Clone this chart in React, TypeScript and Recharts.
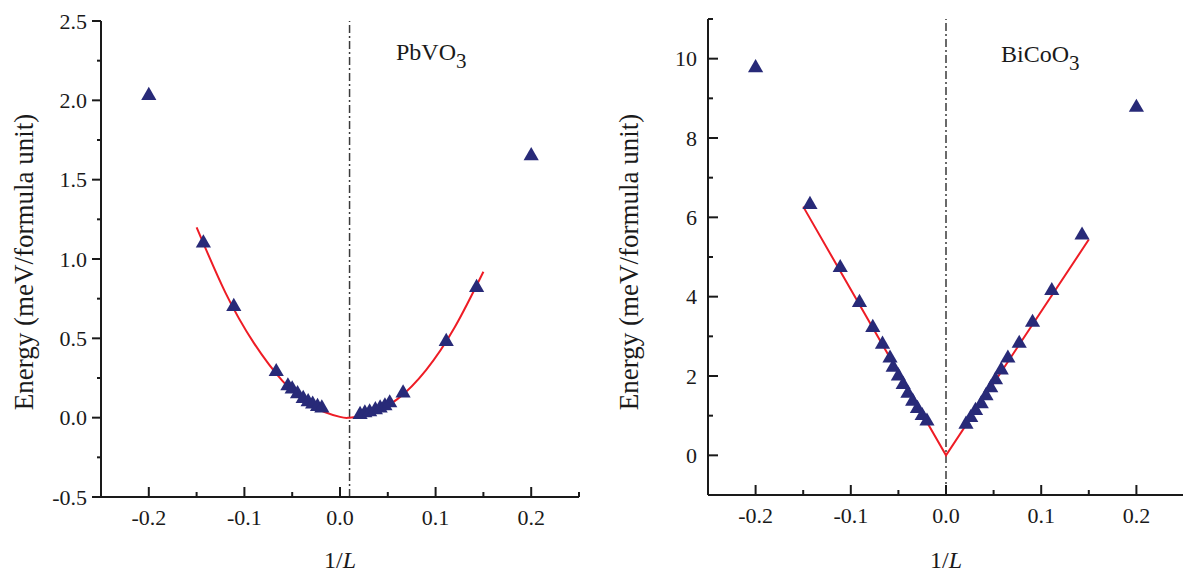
import React from 'react';
import { ComposedChart, XAxis, YAxis, ZAxis, Line, Scatter, ReferenceLine } from 'recharts';

const FONT = '"Liberation Serif", "Times New Roman", Times, serif';
const INK = '#1a1a1a';
const NAVY = '#282a78';
const RED = '#ee1c25';

// ---- PbVO3 (left panel) ----
const pbvo3InvL = [-0.2, -0.1429, -0.1111, -0.0667, -0.0545, -0.05, -0.0444, -0.0385, -0.0333, -0.0286, -0.0235, -0.019,
  0.021, 0.026, 0.031, 0.037, 0.042, 0.047, 0.052, 0.066, 0.1111, 0.1429, 0.2];
const pbvo3Energy = [2.03, 1.10, 0.70, 0.29, 0.20, 0.18, 0.15, 0.12, 0.10, 0.085, 0.07, 0.06,
  0.02, 0.03, 0.036, 0.049, 0.061, 0.074, 0.093, 0.155, 0.48, 0.82, 1.65];
const pbvo3FitInvL = [-0.15, -0.12, -0.09, -0.06, -0.03, 0, 0.01, 0.03, 0.06, 0.09, 0.12, 0.15];
const pbvo3FitEnergy = [1.20, 0.79, 0.47, 0.23, 0.075, 0.005, 0, 0.019, 0.117, 0.30, 0.57, 0.92];
const pbvo3YTicks = [-0.5, -0.25, 0, 0.25, 0.5, 0.75, 1, 1.25, 1.5, 1.75, 2, 2.25, 2.5];
const pbvo3Divider = 0.01;

// ---- BiCoO3 (right panel) ----
const bicoo3InvL = [-0.2, -0.1429, -0.1111, -0.0909, -0.0769, -0.0667, -0.0588, -0.0555, -0.05, -0.045, -0.04, -0.035, -0.03, -0.025, -0.02,
  0.021, 0.026, 0.031, 0.037, 0.042, 0.047, 0.052, 0.058, 0.065, 0.0769, 0.0909, 0.1111, 0.1429, 0.2];
const bicoo3Energy = [9.77, 6.32, 4.73, 3.85, 3.22, 2.80, 2.45, 2.22, 2.0, 1.78, 1.56, 1.36, 1.18, 1.0, 0.86,
  0.78, 0.95, 1.13, 1.3, 1.5, 1.7, 1.9, 2.15, 2.45, 2.82, 3.35, 4.15, 5.55, 8.77];
const bicoo3FitInvL = [-0.15, 0, 0.15];
const bicoo3FitEnergy = [6.27, 0, 5.44];
const bicoo3YTicks = [-1, 0, 1, 2, 3, 4, 5, 6, 7, 8, 9, 10, 11];
const bicoo3Divider = 0;

const xTicks = [-0.25, -0.2, -0.15, -0.1, -0.05, 0, 0.05, 0.1, 0.15, 0.2, 0.25];

const zip = (xs: number[], ys: number[]) => xs.map((x, i) => ({ x, y: ys[i] }));

const XTick = (props: any) => {
  const { x, y, payload } = props;
  const v = payload.value as number;
  const major = Math.abs(Math.round(v * 20)) % 2 === 0;
  return (
    <g>
      <line x1={x} y1={y} x2={x} y2={y - (major ? 10 : 5)} stroke={INK} strokeWidth={2} />
      {major && (
        <text x={x} y={y + 28} textAnchor="middle" fontFamily={FONT} fontSize={22} fill={INK}>
          {v.toFixed(1)}
        </text>
      )}
    </g>
  );
};

const LeftYTick = (props: any) => {
  const { x, y, payload } = props;
  const v = payload.value as number;
  const major = Math.abs(Math.round(v * 4)) % 2 === 0;
  return (
    <g>
      <line x1={x - (major ? 9 : 4)} y1={y} x2={x} y2={y} stroke={INK} strokeWidth={2} />
      {major && (
        <text x={x - 14} y={y + 7.5} textAnchor="end" fontFamily={FONT} fontSize={22} fill={INK}>
          {v.toFixed(1)}
        </text>
      )}
    </g>
  );
};

const RightYTick = (props: any) => {
  const { x, y, payload } = props;
  const v = payload.value as number;
  const major = Math.abs(Math.round(v)) % 2 === 0;
  return (
    <g>
      <line x1={x} y1={y} x2={x + (major ? 10 : 5)} y2={y} stroke={INK} strokeWidth={2} />
      {major && (
        <text x={x - 11} y={y + 7.5} textAnchor="end" fontFamily={FONT} fontSize={22} fill={INK}>
          {String(v)}
        </text>
      )}
    </g>
  );
};

type PanelProps = {
  width: number;
  margin: { top: number; right: number; bottom: number; left: number };
  points: { x: number; y: number }[];
  fit: { x: number; y: number }[];
  fitType: 'natural' | 'linear';
  yDomain: [number, number];
  yTicks: number[];
  yTick: any;
  divider: number;
};

const AXIS_W = 60;
const AXIS_H = 40;

const Panel = ({ width, margin, points, fit, fitType, yDomain, yTicks, yTick, divider }: PanelProps) => (
  <ComposedChart
    width={width}
    height={573}
    margin={{
      top: margin.top,
      right: margin.right,
      bottom: margin.bottom - AXIS_H,
      left: margin.left - AXIS_W,
    }}
  >
    <XAxis
      type="number"
      dataKey="x"
      domain={[-0.25, 0.25]}
      ticks={xTicks}
      interval={0}
      height={AXIS_H}
      tickSize={0}
      tickMargin={0}
      tickLine={false}
      axisLine={{ stroke: INK, strokeWidth: 2 }}
      tick={<XTick />}
    />
    <YAxis
      type="number"
      dataKey="y"
      domain={yDomain}
      ticks={yTicks}
      interval={0}
      width={AXIS_W}
      tickSize={0}
      tickMargin={0}
      tickLine={false}
      axisLine={{ stroke: INK, strokeWidth: 2 }}
      tick={yTick}
    />
    <ZAxis range={[100, 100]} />
    <ReferenceLine x={divider} stroke="#3a3a3a" strokeWidth={1.5} strokeDasharray="8 3 2 3" />
    <Line
      data={fit}
      dataKey="y"
      type={fitType}
      stroke={RED}
      strokeWidth={2}
      dot={false}
      activeDot={false}
      isAnimationActive={false}
    />
    <Scatter data={points} dataKey="y" shape="triangle" fill={NAVY} isAnimationActive={false} />
  </ComposedChart>
);

export default function App() {
  return (
    <div
      style={{
        position: 'absolute',
        left: 0,
        top: 0,
        width: 1183,
        height: 573,
        overflow: 'hidden',
        background: '#fff',
      }}
    >
      <div style={{ position: 'absolute', left: 0, top: 0 }}>
        <Panel
          width={600}
          margin={{ top: 21, right: 21, bottom: 76, left: 101 }}
          points={zip(pbvo3InvL, pbvo3Energy)}
          fit={zip(pbvo3FitInvL, pbvo3FitEnergy)}
          fitType="natural"
          yDomain={[-0.5, 2.5]}
          yTicks={pbvo3YTicks}
          yTick={<LeftYTick />}
          divider={pbvo3Divider}
        />
      </div>
      <div style={{ position: 'absolute', left: 600, top: 0 }}>
        <Panel
          width={590}
          margin={{ top: 19, right: 6, bottom: 78, left: 108 }}
          points={zip(bicoo3InvL, bicoo3Energy)}
          fit={zip(bicoo3FitInvL, bicoo3FitEnergy)}
          fitType="linear"
          yDomain={[-1, 11]}
          yTicks={bicoo3YTicks}
          yTick={<RightYTick />}
          divider={bicoo3Divider}
        />
      </div>
      <svg
        width={1183}
        height={573}
        style={{ position: 'absolute', left: 0, top: 0, pointerEvents: 'none' }}
        fontFamily={FONT}
        fill={INK}
      >
        <text transform="translate(33,262) rotate(-90)" textAnchor="middle" fontSize={27}>
          Energy (meV/formula unit)
        </text>
        <text transform="translate(638,262) rotate(-90)" textAnchor="middle" fontSize={27}>
          Energy (meV/formula unit)
        </text>
        <text x={340} y={568} textAnchor="middle" fontSize={24}>
          1/<tspan fontStyle="italic">L</tspan>
        </text>
        <text x={946} y={568} textAnchor="middle" fontSize={24}>
          1/<tspan fontStyle="italic">L</tspan>
        </text>
        <text x={396} y={60} fontSize={24}>
          PbVO<tspan fontSize={21} dy={8}>3</tspan>
        </text>
        <text x={1001} y={62} fontSize={24}>
          BiCoO<tspan fontSize={21} dy={8}>3</tspan>
        </text>
      </svg>
    </div>
  );
}
